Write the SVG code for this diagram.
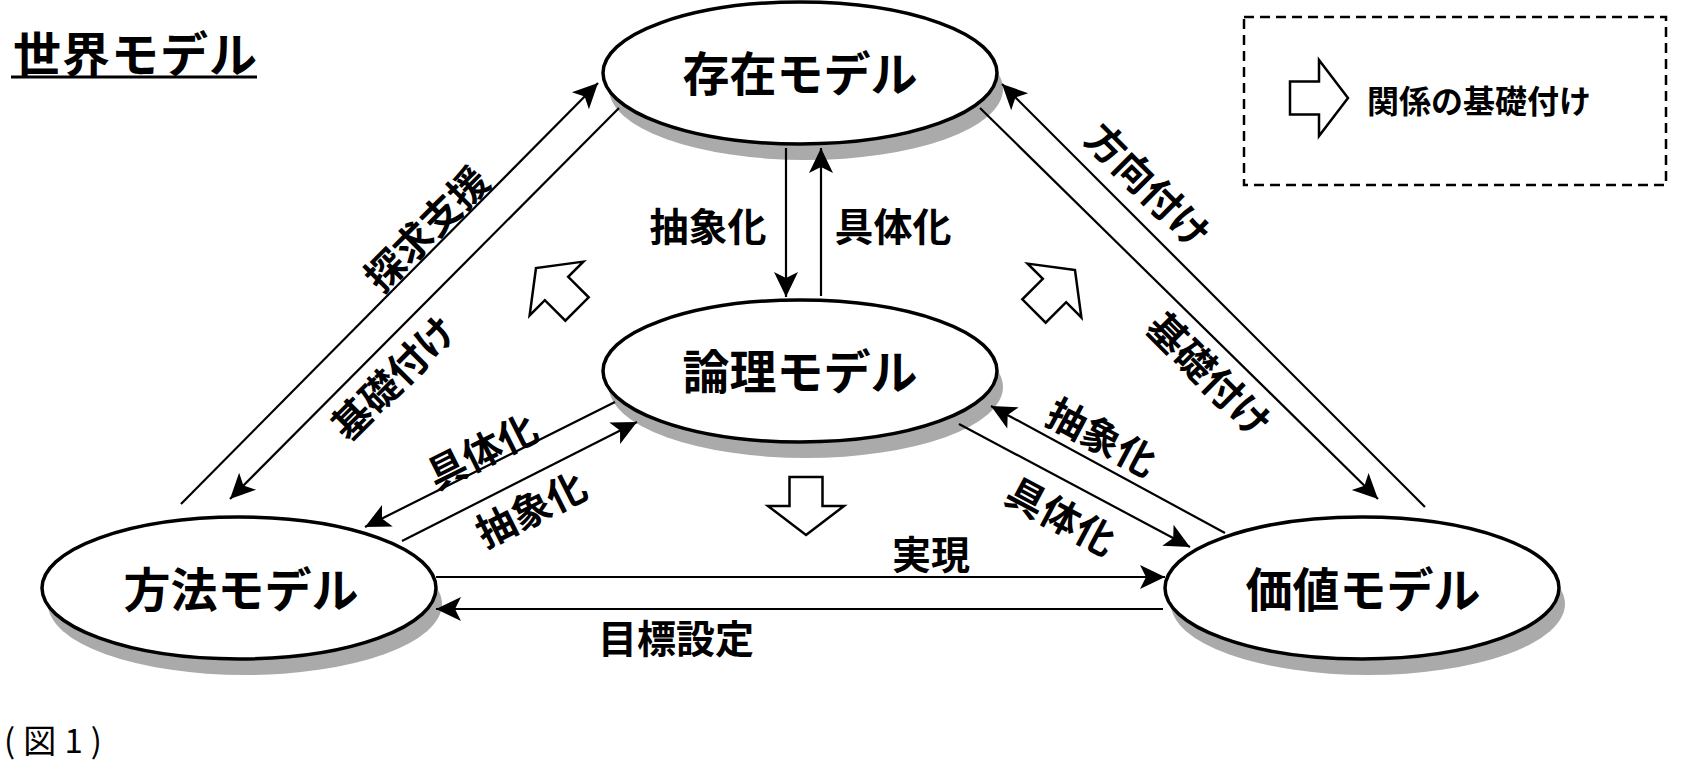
<svg xmlns="http://www.w3.org/2000/svg" width="1696" height="764" viewBox="0 0 1696 764">
<defs>
<style>
.shadow{fill:#aaaaaa;stroke:none}
.node{fill:#ffffff;stroke:#000000;stroke-width:3.5}
.nl{font-family:"Noto Sans CJK JP","Noto Sans CJK SC",sans-serif;font-size:47px;font-weight:bold;text-anchor:middle;dominant-baseline:central;fill:#000}
.el{font-family:"Noto Sans CJK JP","Noto Sans CJK SC",sans-serif;font-size:39px;font-weight:bold;text-anchor:middle;dominant-baseline:central;fill:#000}
.con{stroke:#000;stroke-width:2.2;fill:none;marker-end:url(#ah)}
.block{fill:#fff;stroke:#000;stroke-width:2.5;stroke-linejoin:miter}
</style>
<marker id="ah" markerUnits="userSpaceOnUse" markerWidth="28" markerHeight="28" viewBox="-26 -14 28 28" refX="0" refY="0" orient="auto">
<path d="M0,0 L-25,-12 L-19,0 L-25,12 Z" fill="#000"/>
</marker>
<path id="blk" d="M0,0 L-29,-38 L-29,-16.5 L-58,-16.5 L-58,16.5 L-29,16.5 L-29,38 Z"/>
</defs>
<rect x="0" y="0" width="1696" height="764" fill="#ffffff"/>

<g id="title">
<text x="13" y="51" style="font-family:'Noto Sans CJK JP','Noto Sans CJK SC',sans-serif;font-size:48px;font-weight:bold;dominant-baseline:central" textLength="244">世界モデル</text>
<line x1="11" y1="77" x2="257" y2="77" stroke="#000" stroke-width="3"/>
</g>

<g id="legend">
<rect x="1244" y="17" width="422" height="168" fill="none" stroke="#000" stroke-width="2.5" stroke-dasharray="10 6"/>
<use href="#blk" class="block" transform="translate(1348,98)"/>
<text x="1367" y="99" style="font-family:'Noto Sans CJK JP','Noto Sans CJK SC',sans-serif;font-size:32px;font-weight:bold;dominant-baseline:central">関係の基礎付け</text>
</g>

<g id="node-sonzai">
<ellipse class="shadow" cx="806" cy="89" rx="197" ry="71"/>
<ellipse class="node" cx="800" cy="73" rx="197" ry="71"/>
<text class="nl" x="800" y="70">存在モデル</text>
</g>
<g id="node-ronri">
<ellipse class="shadow" cx="806" cy="387" rx="197" ry="71"/>
<ellipse class="node" cx="800" cy="371" rx="197" ry="71"/>
<text class="nl" x="800" y="368">論理モデル</text>
</g>
<g id="node-houhou">
<ellipse class="shadow" cx="245" cy="604" rx="197" ry="71"/>
<ellipse class="node" cx="239" cy="588" rx="197" ry="71"/>
<text class="nl" x="241" y="586">方法モデル</text>
</g>
<g id="node-kachi">
<ellipse class="shadow" cx="1368" cy="604" rx="197" ry="71"/>
<ellipse class="node" cx="1362" cy="588" rx="197" ry="71"/>
<text class="nl" x="1363" y="586">価値モデル</text>
</g>

<g id="connectors">
<line class="con" x1="181" y1="504" x2="598" y2="83"/>
<line class="con" x1="619" y1="108" x2="230" y2="499"/>
<line class="con" x1="1425" y1="507" x2="1002" y2="84"/>
<line class="con" x1="980" y1="108" x2="1378" y2="499"/>
<line class="con" x1="786" y1="148" x2="786" y2="297"/>
<line class="con" x1="821" y1="296" x2="821" y2="148"/>
<line class="con" x1="615" y1="402" x2="365" y2="527"/>
<line class="con" x1="402" y1="541" x2="637" y2="422"/>
<line class="con" x1="1225" y1="533" x2="991" y2="406"/>
<line class="con" x1="959" y1="424" x2="1190" y2="547"/>
<line class="con" x1="436" y1="577" x2="1165" y2="577"/>
<line class="con" x1="1163" y1="609" x2="436" y2="609"/>
</g>

<g id="grounding-arrows">
<use href="#blk" class="block" transform="translate(806,535) rotate(90)"/>
<use href="#blk" class="block" transform="translate(536,268) rotate(225)"/>
<use href="#blk" class="block" transform="translate(1075,270) rotate(-45)"/>
</g>

<g id="labels">
<text class="el" transform="translate(425,227) rotate(-45)">探求支援</text>
<text class="el" transform="translate(392,376) rotate(-45)">基礎付け</text>
<text class="el" transform="translate(1150,184) rotate(45)">方向付け</text>
<text class="el" transform="translate(1211,373) rotate(45)">基礎付け</text>
<text class="el" x="708" y="224">抽象化</text>
<text class="el" x="893" y="224">具体化</text>
<text class="el" transform="translate(481,449) rotate(-26.6)">具体化</text>
<text class="el" transform="translate(530,507) rotate(-26.6)">抽象化</text>
<text class="el" transform="translate(1103,435) rotate(28)">抽象化</text>
<text class="el" transform="translate(1062,514) rotate(28)">具体化</text>
<text class="el" x="931" y="552">実現</text>
<text class="el" x="676" y="636">目標設定</text>
</g>

<text x="4" y="739" textLength="98" style="font-family:'Noto Sans CJK JP','Noto Sans CJK SC',sans-serif;font-size:33px;dominant-baseline:central">(図1)</text>
</svg>
